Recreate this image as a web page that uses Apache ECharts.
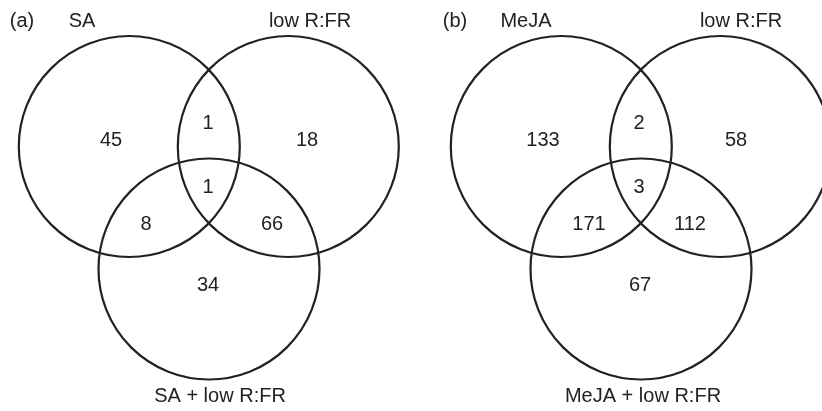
<!DOCTYPE html>
<html>
<head>
<meta charset="utf-8">
<script src="https://cdn.jsdelivr.net/npm/echarts@6/dist/echarts.min.js"></script>
<style>
html,body{margin:0;padding:0;background:#fff;}
#chart{width:822px;height:411px;}
</style>
</head>
<body>
<div id="chart"></div>
<script>
// ---- data ----
const panelTags = ['(a)', '(b)'];
const setNamesA = ['SA', 'low R:FR', 'SA + low R:FR'];
const setNamesB = ['MeJA', 'low R:FR', 'MeJA + low R:FR'];
// region order: only1, only2, only3, 1&2, 1&3, 2&3, 1&2&3
const regionCountsA = [45, 18, 34, 1, 8, 66, 1];
const regionCountsB = [133, 58, 67, 2, 171, 112, 3];

// ---- layout (venn geometry in panel units) ----
const circleLayout = [[129.3, 146.5, 110.5], [288.3, 146.5, 110.5], [209, 269, 110.5]];
const regionPosA = [[111, 140], [307, 140], [208, 285], [208, 123], [146, 224], [272, 224], [208, 187]];
const regionPosB = [[111, 140], [304, 140], [208, 285], [207, 123], [157, 224], [258, 224], [207, 187]];
const tagPos = [[22, 21], [23, 21]];
const namePosA = [[82, 21], [310, 21], [220, 396]];
const namePosB = [[94, 21], [309, 21], [211, 396]];

const ink = '#222';
const font = 'Liberation Sans, Arial, Helvetica, sans-serif';
const fs = 20;

function circleSeries(gi) {
  return {
    type: 'custom', xAxisIndex: gi, yAxisIndex: gi, silent: true,
    clip: false,
    data: circleLayout,
    renderItem: function (params, api) {
      const c = api.coord([api.value(0), api.value(1)]);
      const s = api.size([api.value(2), api.value(2)]);
      return {
        type: 'circle',
        shape: { cx: c[0], cy: c[1], r: s[1] },
        style: { fill: 'none', stroke: ink, lineWidth: 2.2 }
      };
    }
  };
}

function textSeries(gi, positions, texts) {
  const data = positions.map((p, i) => [p[0], p[1], texts[i]]);
  return {
    type: 'custom', xAxisIndex: gi, yAxisIndex: gi, silent: true,
    clip: false,
    data: data,
    renderItem: function (params, api) {
      const c = api.coord([api.value(0), api.value(1)]);
      return {
        type: 'text',
        x: c[0], y: c[1],
        style: {
          text: String(data[params.dataIndex][2]),
          fill: ink, font: fs + 'px ' + font,
          align: 'center', verticalAlign: 'middle'
        }
      };
    }
  };
}

const grids = [
  { left: 0, top: 0, width: 390, height: 411 },
  { left: 432, top: 0, width: 390, height: 411 }
];
const xAxes = grids.map((g, i) => ({ type: 'value', gridIndex: i, min: 0, max: 390, show: false }));
const yAxes = grids.map((g, i) => ({ type: 'value', gridIndex: i, min: 0, max: 411, inverse: true, show: false }));

const chart = echarts.init(document.getElementById('chart'), null, { renderer: 'canvas' });
chart.setOption({
  backgroundColor: '#fff',
  animation: false,
  grid: grids,
  xAxis: xAxes,
  yAxis: yAxes,
  series: [
    circleSeries(0),
    circleSeries(1),
    textSeries(0, regionPosA, regionCountsA),
    textSeries(1, regionPosB, regionCountsB),
    textSeries(0, namePosA, setNamesA),
    textSeries(1, namePosB, setNamesB),
    textSeries(0, [tagPos[0]], [panelTags[0]]),
    textSeries(1, [tagPos[1]], [panelTags[1]])
  ]
});
</script>
</body>
</html>
